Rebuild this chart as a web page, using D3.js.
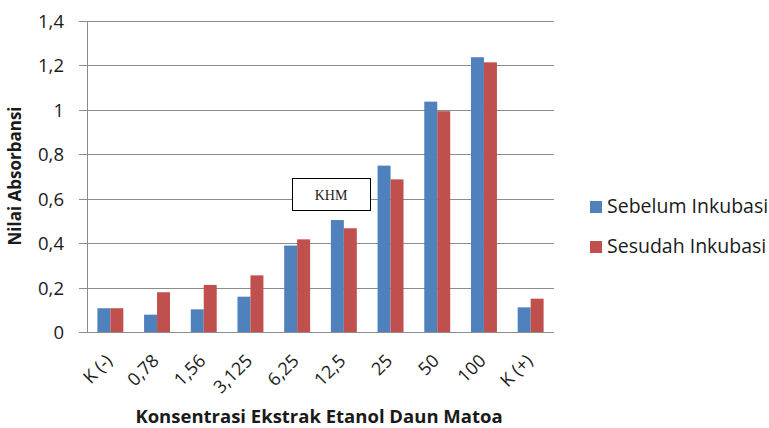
<!DOCTYPE html>
<html>
<head>
<meta charset="utf-8">
<script src="https://cdn.jsdelivr.net/npm/d3@7"></script>
<style>
  body { margin: 0; background: #fff; }
  text { font-family: "Open Sans", "Noto Sans", sans-serif; fill: #1a1a1a; }
</style>
</head>
<body>
<svg id="chart" width="769" height="428"></svg>
<script>
var categories = ['K (-)', '0,78', '1,56', '3,125', '6,25', '12,5', '25', '50', '100', 'K (+)'];
var seriesNames = ['Sebelum Inkubasi', 'Sesudah Inkubasi'];
var sebelum = [0.107, 0.078, 0.102, 0.159, 0.389, 0.504, 0.749, 1.037, 1.237, 0.111];
var sesudah = [0.107, 0.179, 0.212, 0.255, 0.417, 0.467, 0.687, 0.994, 1.214, 0.150];
var yTicks = [0, 0.2, 0.4, 0.6, 0.8, 1, 1.2, 1.4];
var colors = ['#4f81bd', '#c0504d'];

var svg = d3.select('#chart');

var plotLeft = 87, plotRight = 554, plotTop = 21, plotBottom = 332;

var x = d3.scaleBand()
    .domain(categories)
    .range([plotLeft, plotRight]);

var x1 = d3.scaleBand()
    .domain([0, 1])
    .range([0, x.bandwidth() / 1.8]);

var y = d3.scaleLinear()
    .domain([0, 1.4])
    .range([plotBottom, plotTop]);

var fmt = function(d) {
    return String(d).replace('.', ',');
};

// gridlines
svg.append('g')
    .selectAll('line')
    .data(yTicks)
    .enter()
    .append('line')
    .attr('x1', plotLeft - 8)
    .attr('x2', plotRight)
    .attr('y1', function(d) { return Math.round(y(d)) + 0.5; })
    .attr('y2', function(d) { return Math.round(y(d)) + 0.5; })
    .attr('stroke', '#8c8c8c')
    .attr('stroke-width', 1);

// y tick labels
svg.append('g')
    .selectAll('text')
    .data(yTicks)
    .enter()
    .append('text')
    .attr('x', 64)
    .attr('y', function(d) { return y(d) + 7; })
    .attr('text-anchor', 'end')
    .style('font-size', '18.5px')
    .text(fmt);

// y axis line
svg.append('line')
    .attr('x1', plotLeft + 0.5)
    .attr('x2', plotLeft + 0.5)
    .attr('y1', plotTop)
    .attr('y2', plotBottom)
    .attr('stroke', '#8c8c8c');

// bars
var rows = categories.map(function(c, i) {
    return { cat: c, vals: [sebelum[i], sesudah[i]] };
});

var groups = svg.append('g')
    .selectAll('g')
    .data(rows)
    .enter()
    .append('g')
    .attr('transform', function(d) {
        return 'translate(' + (x(d.cat) + (x.bandwidth() - x1.range()[1]) / 2) + ',0)';
    });

groups.selectAll('rect')
    .data(function(d) { return d.vals; })
    .enter()
    .append('rect')
    .attr('x', function(d, i) { return x1(i); })
    .attr('width', x1.bandwidth())
    .attr('y', function(d) { return y(d); })
    .attr('height', function(d) { return plotBottom - y(d); })
    .attr('fill', function(d, i) { return colors[i]; });

// x tick labels
svg.append('g')
    .selectAll('text')
    .data(categories)
    .enter()
    .append('text')
    .attr('text-anchor', 'end')
    .attr('transform', function(d) {
        return 'translate(' + (x(d) + x.bandwidth() / 2 + 3) + ',362) rotate(-45)';
    })
    .style('font-size', '18px')
    .text(function(d) { return d; });

// axis titles
svg.append('text')
    .attr('x', 319)
    .attr('y', 423)
    .attr('text-anchor', 'middle')
    .style('font-size', '18.5px')
    .style('font-weight', 'bold')
    .text('Konsentrasi Ekstrak Etanol Daun Matoa');

svg.append('text')
    .attr('transform', 'translate(21,176) rotate(-90)')
    .attr('text-anchor', 'middle')
    .style('font-size', '17px')
    .style('font-weight', 'bold')
    .text('Nilai Absorbansi');

// KHM box
svg.append('rect')
    .attr('x', 292.5)
    .attr('y', 178.5)
    .attr('width', 78)
    .attr('height', 32)
    .attr('fill', '#fff')
    .attr('stroke', '#000')
    .attr('stroke-width', 1);

svg.append('text')
    .attr('x', 331)
    .attr('y', 200)
    .attr('text-anchor', 'middle')
    .style('font-family', '"Liberation Serif", serif')
    .style('font-size', '14px')
    .text('KHM');

// legend
var legend = svg.append('g')
    .selectAll('g')
    .data(seriesNames)
    .enter()
    .append('g')
    .attr('transform', function(d, i) {
        return 'translate(590,' + (201 + i * 40) + ')';
    });

legend.append('rect')
    .attr('width', 12)
    .attr('height', 12)
    .attr('fill', function(d, i) { return colors[i]; });

legend.append('text')
    .attr('x', 17)
    .attr('y', 12)
    .style('font-size', '19.5px')
    .text(function(d) { return d; });
</script>
</body>
</html>
